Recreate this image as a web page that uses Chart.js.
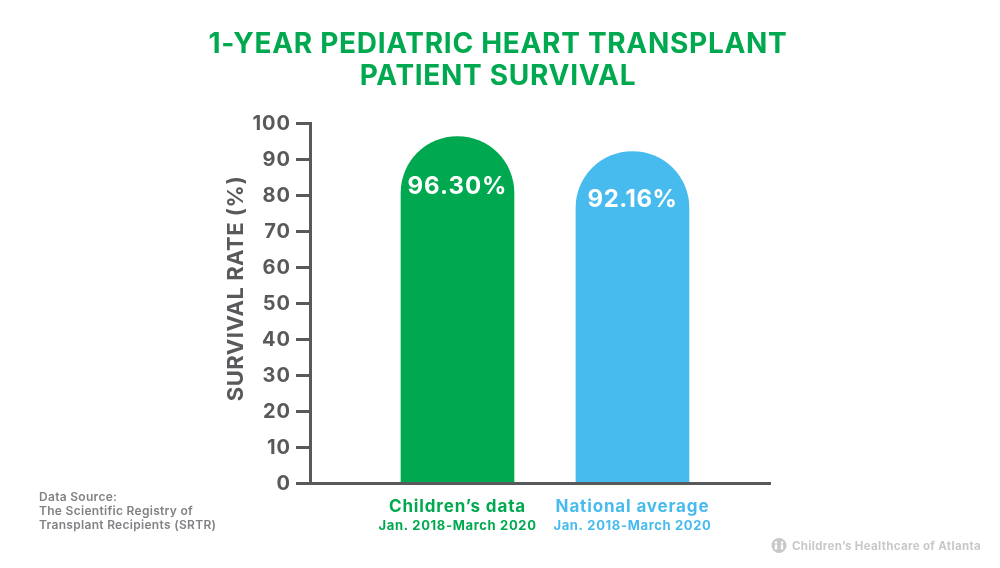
<!DOCTYPE html>
<html>
<head>
<meta charset="utf-8">
<style>
  html, body { margin: 0; padding: 0; background: #fff; }
  canvas { display: block; }
</style>
<script src="https://cdn.jsdelivr.net/npm/chart.js@4"></script>
</head>
<body>
<canvas id="survivalChart" width="1000" height="568"></canvas>
<script>
const titleLines = ["1-YEAR PEDIATRIC HEART TRANSPLANT", "PATIENT SURVIVAL"];
const yAxisTitle = "SURVIVAL RATE (%)";
const categories = ["Children\u2019s data", "National average"];
const periods = ["Jan. 2018-March 2020", "Jan. 2018-March 2020"];
const survivalRates = [96.30, 92.16];
const valueLabels = ["96.30%", "92.16%"];
const barPositions = [1, 2];
const barColors = ["#00a94f", "#48bbee"];
const sourceLines = ["Data Source:", "The Scientific Registry of", "Transplant Recipients (SRTR)"];
const creditText = "Children\u2019s Healthcare of Atlanta";

const FONT = "Inter, sans-serif";
const AXIS_GREY = "#58595b";
const LOGO_GREY = "#c7c8ca";

function putText(ctx, text, x, y, font, color, align, spacing) {
  ctx.font = font;
  ctx.fillStyle = color;
  ctx.textAlign = align;
  ctx.textBaseline = "alphabetic";
  ctx.letterSpacing = spacing || "0px";
  ctx.fillText(text, x, y);
  ctx.letterSpacing = "0px";
}

function drawLogo(ctx) {
  ctx.fillStyle = LOGO_GREY;
  ctx.beginPath();
  ctx.arc(779, 545.5, 7.5, 0, Math.PI * 2);
  ctx.fill();
  // two small figures inside the badge
  ctx.fillStyle = "#fff";
  [776, 782].forEach(x => {
    ctx.beginPath();
    ctx.arc(x, 542.5, 1.3, 0, Math.PI * 2);
    ctx.fill();
    ctx.fillRect(x - 1.2, 544.5, 2.4, 5);
  });
}

// wider tick lettering, like the reference
const wideLetters = {
  id: "wideLetters",
  beforeDraw(chart) {
    chart.ctx.letterSpacing = "1px";
  }
};

// headline, axis title, bar values, two-line category labels, source note and credit
const extraText = {
  id: "extraText",
  afterDraw(chart) {
    const ctx = chart.ctx;
    const xs = chart.scales.x;
    ctx.save();
    titleLines.forEach((line, i) => {
      putText(ctx, line, 498, 53 + i * 31.7, "700 28px " + FONT, "#00a94f", "center", "0.7px");
    });
    ctx.save();
    ctx.translate(243, 288.5);
    ctx.rotate(-Math.PI / 2);
    putText(ctx, yAxisTitle, 0, 0, "700 22px " + FONT, AXIS_GREY, "center", "0.5px");
    ctx.restore();
    barPositions.forEach((pos, i) => {
      const x = xs.getPixelForValue(pos);
      putText(ctx, valueLabels[i], x, i === 0 ? 194 : 207, "700 24px " + FONT, "#fff", "center", i === 0 ? "1px" : "0.5px");
      putText(ctx, categories[i], x, 512, "700 17px " + FONT, barColors[i], "center", "0.85px");
      putText(ctx, periods[i], x, 530, "700 13px " + FONT, barColors[i], "center", "0.65px");
    });
    sourceLines.forEach((line, i) => {
      putText(ctx, line, 39, 501 + i * 14, "600 12px " + FONT, "#808285", "left", "0.3px");
    });
    drawLogo(ctx);
    putText(ctx, creditText, 792, 550, "700 11.5px " + FONT, LOGO_GREY, "left", "0.33px");
    ctx.restore();
  }
};

new Chart(document.getElementById("survivalChart"), {
  type: "bar",
  data: {
    datasets: [{
      data: barPositions.map((pos, i) => ({ x: pos, y: survivalRates[i] })),
      backgroundColor: barColors,
      barThickness: 113,
      borderRadius: { topLeft: 57, topRight: 57, bottomLeft: 0, bottomRight: 0 }
    }]
  },
  options: {
    responsive: false,
    animation: false,
    layout: { padding: { left: 226, right: 230, top: 123.3, bottom: 84.7 } },
    plugins: {
      legend: { display: false },
      tooltip: { enabled: false }
    },
    scales: {
      x: {
        type: "linear",
        offset: false,
        min: 0.157,
        max: 2.786,
        afterFit(scale) { scale.height = 0; },
        ticks: { display: false },
        grid: { display: false },
        border: { color: AXIS_GREY, width: 3, z: 1 }
      },
      y: {
        min: 0,
        max: 100,
        afterFit(scale) { scale.width = 84; },
        ticks: {
          stepSize: 10,
          padding: 5,
          labelOffset: 1,
          color: AXIS_GREY,
          font: { family: FONT, size: 20, weight: "700" }
        },
        grid: { drawOnChartArea: false, tickLength: 14, tickColor: AXIS_GREY, lineWidth: 3 },
        border: { color: AXIS_GREY, width: 3, z: 1 }
      }
    }
  },
  plugins: [wideLetters, extraText]
});
</script>
</body>
</html>
